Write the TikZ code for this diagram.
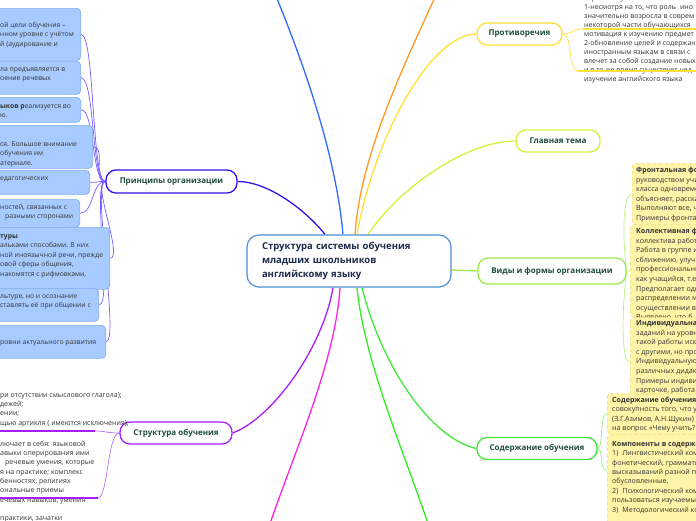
\documentclass[tikz,border=0pt]{standalone}
\usepackage{fontspec}
\setmainfont{Open Sans}
\usetikzlibrary{backgrounds}
\definecolor{mainline}{HTML}{4A90D6}
\definecolor{maintext}{HTML}{1C2B4B}
\definecolor{topictext}{HTML}{1F4D3A}
\definecolor{notegray}{HTML}{333333}
\definecolor{princline}{HTML}{3311EE}
\definecolor{princlink}{HTML}{7A5CFF}
\definecolor{strline}{HTML}{A61EFF}
\definecolor{strlink}{HTML}{B870FF}
\definecolor{protline}{HTML}{FFE03A}
\definecolor{glavline}{HTML}{D6F03C}
\definecolor{vidline}{HTML}{9CE84A}
\definecolor{vidlink}{HTML}{B8F07E}
\definecolor{sodline}{HTML}{40E83A}
\definecolor{sodlink}{HTML}{92EF7E}
\definecolor{upblue}{HTML}{2F6BFF}
\definecolor{uporange}{HTML}{FF9A22}
\definecolor{downpink}{HTML}{FF22E0}
\definecolor{downgreen}{HTML}{33EE22}
\definecolor{bluefill}{HTML}{A8CBFF}
\definecolor{blueedge}{HTML}{80AAF2}
\definecolor{yelfill}{HTML}{FFF4A8}
\definecolor{yeledge}{HTML}{F0DA66}
\tikzset{
  mainnode/.style={draw=mainline, line width=1.2pt, rounded corners=12pt, fill=white, text=maintext, align=left, font=\fontsize{9.5}{14}\selectfont\bfseries},
  topic/.style={line width=1.3pt, rounded corners=10pt, fill=white, text=topictext, inner sep=0pt, font=\fontsize{8}{10}\selectfont\bfseries},
  bluebox/.style={draw=blueedge, fill=bluefill, line width=0.7pt, rounded corners=4pt, inner sep=0pt},
  yelbox/.style={draw=yeledge, dashed, fill=yelfill, line width=0.6pt, rounded corners=4pt, inner sep=0pt},
  lefttext/.style={anchor=north west, align=left, inner sep=0pt, text=notegray, font=\fontsize{6.8}{9.5}\selectfont},
  righttext/.style={anchor=north west, align=left, inner sep=0pt, text=notegray, font=\fontsize{7.1}{9.6}\selectfont},
  branch/.style={line width=1.3pt},
  twig/.style={line width=0.7pt},
  underline/.style={line width=2pt},
}
\begin{document}
\begin{tikzpicture}[x=1pt, y=-1pt]
\useasboundingbox (0,0) rectangle (696,520);
\node[mainnode, text width=174pt, inner xsep=15pt, minimum height=52pt] (center) at (349,261) {Структура системы обучения\\младших школьников\\английскому языку};
\node[topic, draw=princline, minimum width=131pt, minimum height=23pt] (princ) at (171.5,181.5) {Принципы организации};
\node[topic, draw=strline, minimum width=112pt, minimum height=22pt] (struct) at (176,433) {Структура обучения};
\node[topic, draw=protline, minimum width=85pt, minimum height=22pt] (protiv) at (519.5,34) {Противоречия};
\node[topic, draw=glavline, minimum width=84pt, minimum height=22pt] (glavn) at (558,141) {Главная тема};
\node[topic, draw=vidline, minimum width=148pt, minimum height=26pt] (vidy) at (552,271) {Виды и формы организации};
\node[topic, draw=sodline, minimum width=120pt, minimum height=22pt] (soder) at (537,448.5) {Содержание обучения};
\node[bluebox, anchor=north east, minimum width=101pt, minimum height=52pt] (pr1) at (81,8) {};
\node[lefttext] (pr1t) at (0,20.5) {\strut ой цели обучения –\\нном уровне с учётом\\й (аудирование и};
\node[bluebox, anchor=north east, minimum width=101pt, minimum height=33pt] (pr2) at (81,61) {};
\node[lefttext] (pr2t) at (0,64.5) {\strut ла предъявляется в\\оение речевых};
\node[bluebox, anchor=north east, minimum width=101pt, minimum height=25pt] (pr3) at (81,97) {};
\node[lefttext] (pr3t) at (0,101.5) {\strut\textbf{ыков р}еализуется во\\ю.};
\node[bluebox, anchor=north east, minimum width=113pt, minimum height=43pt] (pr4) at (93,125) {};
\node[lefttext] (pr4t) at (0,139.5) {\strut ся. Большое внимание\\обучения им\\атериале.};
\node[bluebox, anchor=north east, minimum width=110pt, minimum height=24pt] (pr5) at (90,170) {};
\node[lefttext] (pr5t) at (0,173.5) {\strut едагогических};
\node[bluebox, anchor=north east, minimum width=100pt, minimum height=28pt] (pr6) at (80,199) {};
\node[lefttext] (pr6t) at (0,202.5) {\strut ностей, связанных с\\\hspace*{5pt}разными сторонами};
\node[bluebox, anchor=north east, minimum width=130pt, minimum height=62pt] (pr7) at (110,227) {};
\node[lefttext] (pr7t) at (0,231.5) {\strut\textbf{туры}\\альками способами. В них\\ной иноязычной речи, прежде\\овой сферы общения,\\накомятся с рифмовками,};
\node[bluebox, anchor=north east, minimum width=119pt, minimum height=33pt] (pr8) at (99,288) {};
\node[lefttext] (pr8t) at (0,291.5) {\strut льтуре, но и осознание\\ставлять её при общении с};
\node[bluebox, anchor=north east, minimum width=126pt, minimum height=33pt] (pr9) at (106,325) {};
\node[lefttext] (pr9t) at (0,337.5) {\strut ровни актуального развития};
\node[lefttext, font=\fontsize{7}{9.3}\selectfont] (st1) at (0,390.5) {\strut ри отсутствии смыслового глагола);\\дежей;\\ении;\\щью артикля ( имеются исключения);};
\node[lefttext, font=\fontsize{7}{9.3}\selectfont] (st2) at (0,439.5) {\strut лючает в себя: языковой\\авыки оперирования ими\\\hspace*{5pt}речевые умения, которые\\я на практике; комплекс\\бенностях, религиях\\ональные приемы\\ечевых навыков, умения\\[9.3pt]практики, зачатки};
\coordinate (s1l) at (-5,431);
\coordinate (s1r) at (95,431);
\coordinate (s2l) at (-5,498);
\coordinate (s2r) at (98,498);
\node[righttext, font=\fontsize{7}{9.1}\selectfont] (protnote) at (584,-6.5) {\strut\hspace*{4pt}зрения и устойчивый инте\\1-несмотря на то, что роль\hspace{4pt}ино\\значительно возросла в соврем\\некоторой части обучающихся\\мотивация к изучению предмет\\2-обновление целей и содержан\\иностранным языкам в связи с\\влечет за собой создание новых\\и в то же время существует нед\\изучение английского языка};
\coordinate (p1l) at (583,29);
\coordinate (p1r) at (705,29);
\coordinate (p2l) at (578,71);
\coordinate (p2r) at (705,71);
\node[yelbox, anchor=north west, minimum width=100pt, minimum height=61pt] (front) at (632,163) {};
\node[righttext] (frontt) at (636,165.5) {\strut\textbf{Фронтальная фо}\\руководством учи\\класса одновреме\\объясняет, расска\\Выполняют все, ч\\Примеры фронта};
\node[yelbox, anchor=north west, minimum width=100pt, minimum height=93pt] (koll) at (630,224) {};
\node[righttext] (kollt) at (636,226.5) {\strut\textbf{Коллективная ф}\\коллектива работ\\Работа в группе и\\сближению, улуч\\профессиональны\\как учащийся, т.е\\Предполагает одн\\распределении м\\осуществлении в\\Выявлено, что б};
\node[yelbox, anchor=north west, minimum width=100pt, minimum height=90pt] (indiv) at (630,317) {};
\node[righttext] (indivt) at (636,318.5) {\strut\textbf{Индивидуальная}\\заданий на уровн\\такой работы иск\\с другими, но про\\Индивидуальную\\различных дидак\\Примеры индиви\\карточке, работа};
\node[yelbox, anchor=north west, minimum width=100pt, minimum height=41pt] (sodbox) at (607,393) {};
\node[righttext, font=\fontsize{7.1}{9.4}\selectfont] (sodboxt) at (612,395.5) {\strut\textbf{Содержание обучения}\\совокупность того, что у\\(З.Г.Азимов, А.Н.Щукин)\\на вопрос «Чему учить?};
\node[yelbox, anchor=north west, minimum width=100pt, minimum height=100pt] (kompbox) at (607,434) {};
\node[righttext, font=\fontsize{7.1}{9.4}\selectfont] (kompboxt) at (612,439.5) {\strut\textbf{Компоненты в содержа}\\1)\hspace{4pt}Лингвистический ком\\фонетический, граммати\\высказываний разной п\\обусловленные.\\2)\hspace{4pt}Психологический ком\\пользоваться изучаемы\\3)\hspace{4pt}Методологический ко};
\coordinate (upblueend) at (265,-30);
\coordinate (uporangeend) at (447,-30);
\coordinate (downpinkend) at (263,545);
\coordinate (downgreenend) at (435,545);
\draw[underline, strline] (s1l) -- (s1r);
\draw[underline, strline] (s2l) -- (s2r);
\draw[underline, protline] (p1l) -- (p1r);
\draw[underline, protline] (p2l) -- (p2r);
\begin{scope}[on background layer]
\draw[branch, upblue] ([xshift=-6pt]center.north) .. controls +(-8,-90) and +(30,70) .. (upblueend);
\draw[branch, uporange] ([xshift=6pt]center.north) .. controls +(6,-90) and +(-30,70) .. (uporangeend);
\draw[branch, protline] ([xshift=8pt]center.north) .. controls +(18,-100) and +(-45,0) .. (protiv.west);
\draw[branch, glavline] ([xshift=19pt]center.north) .. controls +(30,-45) and +(-50,0) .. (glavn.west);
\draw[branch, princline] ([xshift=-24pt]center.north) .. controls +(-20,-25) and +(30,0) .. (princ.east);
\draw[branch, vidline] ([yshift=-9pt]center.east) -- (vidy.west);
\draw[branch, strline] ([xshift=-16pt]center.south) .. controls +(-10,60) and +(40,-15) .. (struct.east);
\draw[branch, downpink] ([xshift=-9pt]center.south) .. controls +(-5,80) and +(25,-80) .. (downpinkend);
\draw[branch, downgreen] ([xshift=8pt]center.south) .. controls +(8,80) and +(-25,-80) .. (downgreenend);
\draw[branch, sodline] ([xshift=13pt]center.south) .. controls +(20,80) and +(-45,-10) .. (soder.west);
\draw[twig, princlink] (princ.west) .. controls +(-14,0) and +(14,0) .. (pr1.east);
\draw[twig, princlink] (princ.west) .. controls +(-14,0) and +(14,0) .. (pr2.east);
\draw[twig, princlink] (princ.west) .. controls +(-14,0) and +(14,0) .. (pr3.east);
\draw[twig, princlink] (princ.west) .. controls +(-14,0) and +(14,0) .. (pr4.east);
\draw[twig, princlink] (princ.west) .. controls +(-14,0) and +(14,0) .. (pr5.east);
\draw[twig, princlink] (princ.west) .. controls +(-14,0) and +(14,0) .. (pr6.east);
\draw[twig, princlink] (princ.west) .. controls +(-14,0) and +(14,0) .. (pr7.east);
\draw[twig, princlink] (princ.west) .. controls +(-14,0) and +(14,0) .. (pr8.east);
\draw[twig, princlink] (princ.west) .. controls +(-14,0) and +(14,0) .. (pr9.east);
\draw[twig, strlink] (struct.west) .. controls +(-12,0) and +(10,0) .. (s1r);
\draw[twig, strlink] (struct.west) .. controls +(-12,0) and +(10,0) .. (s2r);
\draw[twig, protline] (protiv.east) .. controls +(10,0) and +(-10,0) .. (p1l);
\draw[twig, protline] (protiv.east) .. controls +(10,0) and +(-10,0) .. (p2l);
\draw[twig, vidlink] (vidy.east) .. controls +(-4,-30) and +(-10,0) .. (front.west);
\draw[twig, vidlink] (vidy.east) -- (koll.west);
\draw[twig, vidlink] (vidy.east) .. controls +(-4,30) and +(-10,0) .. (indiv.west);
\draw[twig, sodlink] (soder.east) .. controls +(6,0) and +(-8,0) .. (sodbox.west);
\draw[twig, sodlink] (soder.east) .. controls +(6,0) and +(-8,0) .. ([yshift=14pt]kompbox.west);
\end{scope}
\end{tikzpicture}
\end{document}
